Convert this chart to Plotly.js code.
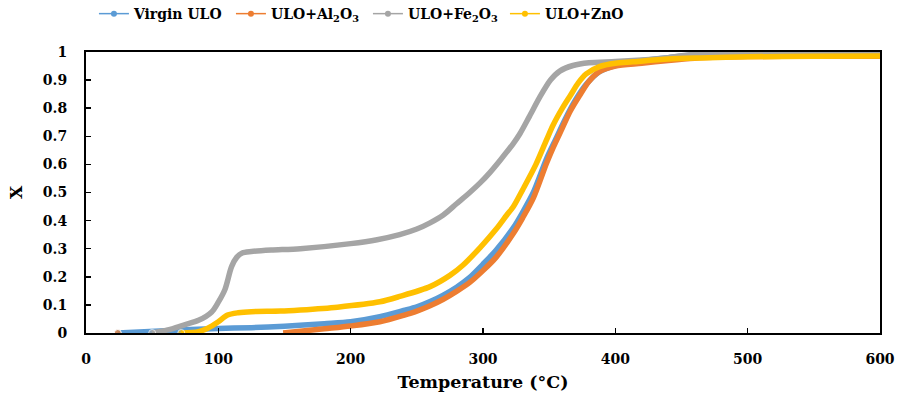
<!DOCTYPE html>
<html>
<head>
<meta charset="utf-8">
<script src="https://cdn.plot.ly/plotly-3.0.1.min.js"></script>
<style>html,body{margin:0;padding:0;background:#fff;}#chart{width:898px;height:401px;}</style>
</head>
<body>
<div id="chart"></div>
<script>
// Series names
const seriesNames = ["Virgin ULO", "ULO+Al<sub>2</sub>O<sub>3</sub>", "ULO+Fe<sub>2</sub>O<sub>3</sub>", "ULO+ZnO"];
const seriesColors = ["#5B9BD5", "#ED7D31", "#A5A5A5", "#FFC000"];

// Virgin ULO
const virginT = [24, 60, 100, 125, 150, 180, 200, 222, 240, 250, 260, 270, 280, 290, 300, 310, 323, 330, 338, 348, 355, 362, 370, 378, 388, 400, 420, 440, 460, 480, 500, 550, 600];
const virginX = [0, 0.008, 0.016, 0.019, 0.024, 0.033, 0.04, 0.058, 0.08, 0.093, 0.112, 0.135, 0.163, 0.198, 0.245, 0.295, 0.375, 0.43, 0.5, 0.62, 0.69, 0.76, 0.83, 0.885, 0.93, 0.952, 0.97, 0.98, 0.99, 0.997, 0.998, 0.999, 0.999];

// ULO + Al2O3 (single point at start, gap, then data)
const al2o3T = [24, null, 149, 180, 200, 222, 240, 250, 260, 270, 280, 290, 300, 310, 323, 330, 338, 348, 353, 360, 366, 373, 380, 388, 400, 420, 440, 460, 480, 500, 550, 600];
const al2o3X = [0, null, 0, 0.015, 0.025, 0.04, 0.063, 0.078, 0.097, 0.12, 0.148, 0.18, 0.222, 0.27, 0.355, 0.41, 0.48, 0.604, 0.66, 0.73, 0.79, 0.845, 0.895, 0.93, 0.95, 0.96, 0.97, 0.978, 0.982, 0.984, 0.985, 0.985];

// ULO + Fe2O3
const fe2o3T = [50, 65, 75, 85, 95, 100, 105, 110, 114, 118, 125, 140, 162, 200, 220, 237, 250, 260, 270, 280, 290, 298, 305, 313, 323, 328, 335, 343, 351, 358, 368, 380, 400, 420, 440, 460, 480, 500, 600];
const fe2o3X = [0, 0.015, 0.03, 0.045, 0.075, 0.11, 0.155, 0.236, 0.27, 0.285, 0.29, 0.295, 0.3, 0.318, 0.332, 0.35, 0.37, 0.392, 0.42, 0.46, 0.5, 0.535, 0.57, 0.615, 0.675, 0.71, 0.77, 0.84, 0.9, 0.932, 0.952, 0.962, 0.966, 0.972, 0.98, 0.992, 0.997, 0.998, 0.998];

// ULO + ZnO
const znoT = [72, 85, 92, 100, 107, 115, 125, 147, 162, 190, 222, 237, 260, 275, 285, 298, 310, 318, 323, 330, 340, 348, 353, 360, 366, 372, 378, 388, 400, 413, 440, 464, 500, 550, 600];
const znoX = [0, 0.005, 0.017, 0.04, 0.064, 0.072, 0.076, 0.078, 0.082, 0.092, 0.111, 0.13, 0.165, 0.205, 0.242, 0.305, 0.37, 0.42, 0.45, 0.51, 0.6, 0.687, 0.74, 0.8, 0.845, 0.89, 0.922, 0.948, 0.96, 0.965, 0.975, 0.979, 0.983, 0.985, 0.986];

// Axis ticks
const xTicks = [0, 100, 200, 300, 400, 500, 600];
const yTicks = [0, 0.1, 0.2, 0.3, 0.4, 0.5, 0.6, 0.7, 0.8, 0.9, 1];
const yTickLabels = ["0", "0.1", "0.2", "0.3", "0.4", "0.5", "0.6", "0.7", "0.8", "0.9", "1"];

const allT = [virginT, al2o3T, fe2o3T, znoT];
const allX = [virginX, al2o3X, fe2o3X, znoX];

const FONT = "'DejaVu Serif', 'Liberation Serif', serif";

const traces = [];
for (let i = 0; i < 4; i++) {
  const sizes = allT[i].map((v, k) => (k === 0 ? 7 : 0));
  traces.push({
    x: allT[i], y: allX[i], type: "scatter", mode: "lines+markers",
    line: {color: seriesColors[i], width: 5.5, shape: "spline", smoothing: 0.8},
    marker: {color: seriesColors[i], size: sizes},
    connectgaps: false, showlegend: false, hoverinfo: "skip"
  });
}
for (let i = 0; i < 4; i++) {
  traces.push({
    x: [null], y: [null], type: "scatter", mode: "lines+markers",
    name: seriesNames[i],
    line: {color: seriesColors[i], width: 1.5},
    marker: {color: seriesColors[i], size: 6},
    showlegend: true
  });
}

const layout = {
  width: 898, height: 401,
  margin: {l: 86, r: 18, t: 52, b: 68},
  paper_bgcolor: "#fff", plot_bgcolor: "#fff",
  font: {family: FONT, size: 14, color: "#000", weight: "bold"},
  showlegend: true,
  legend: {
    orientation: "h", xref: "paper", x: 0.01, xanchor: "left",
    yref: "container", y: 0.965, yanchor: "middle",
    font: {family: FONT, size: 14, color: "#000", weight: "bold"},
    entrywidth: 92, entrywidthmode: "pixels",
    bgcolor: "rgba(0,0,0,0)"
  },
  xaxis: {
    range: [0, 600], tickvals: xTicks, ticktext: xTicks.map(String),
    ticks: "inside", ticklen: 5, tickwidth: 1.5, tickcolor: "#000",
    showline: true, linecolor: "#000", linewidth: 2, mirror: true,
    showgrid: false, zeroline: false,
    ticklabelstandoff: 12,
    tickfont: {family: FONT, size: 14, color: "#000", weight: "bold"},
    title: {text: "Temperature (°C)", font: {family: FONT, size: 17.5, color: "#000", weight: "bold"}, standoff: 10}
  },
  yaxis: {
    range: [0, 1], tickvals: yTicks, ticktext: yTickLabels,
    ticks: "inside", ticklen: 5, tickwidth: 1.5, tickcolor: "#000",
    showline: true, linecolor: "#000", linewidth: 2, mirror: true,
    showgrid: false, zeroline: false,
    ticklabelstandoff: 14,
    tickfont: {family: FONT, size: 14, color: "#000", weight: "bold"},
    title: {text: "X", font: {family: FONT, size: 17, color: "#000", weight: "bold"}, standoff: 16}
  }
};

Plotly.newPlot("chart", traces, layout, {displayModeBar: false, staticPlot: true});
</script>
</body>
</html>
